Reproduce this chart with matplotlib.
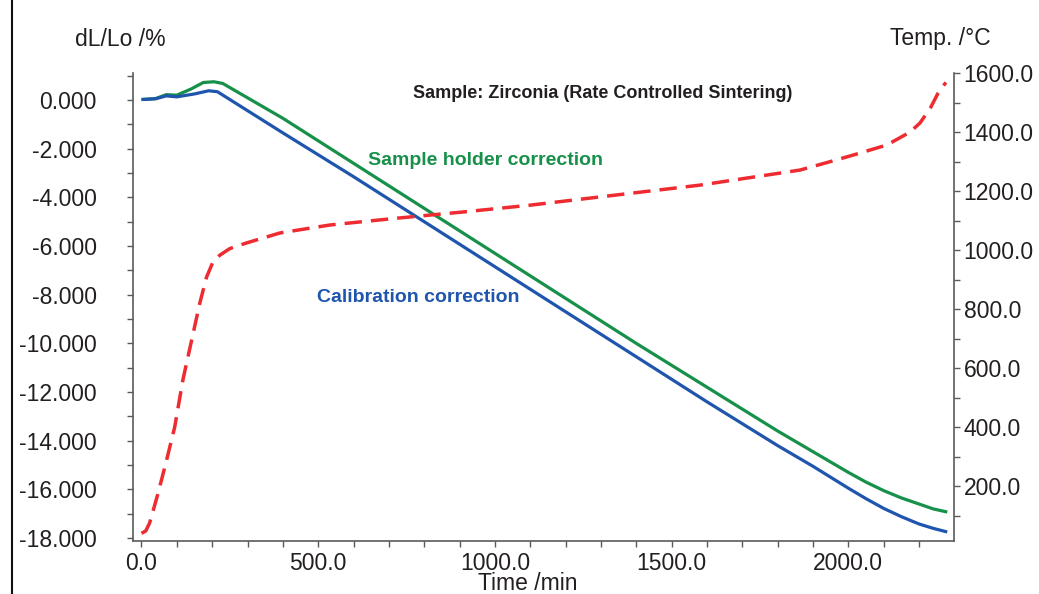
"""Dilatometer curve: zirconia rate controlled sintering (dL/Lo and temperature vs time)."""
import matplotlib
matplotlib.use("Agg")
import matplotlib.pyplot as plt
from matplotlib.lines import Line2D
from matplotlib.ticker import MultipleLocator, FormatStrFormatter

plt.rcParams["font.family"] = ["Liberation Sans", "DejaVu Sans"]

# --- data ---
time_calib = [0, 40, 70, 100, 150, 190, 215, 400, 600, 800, 1000, 1200, 1400,
              1600, 1800, 1900, 2000, 2050, 2100, 2150, 2200, 2240, 2280]
dl_calib = [0.02, 0.05, 0.17, 0.13, 0.25, 0.38, 0.34, -1.35, -3.15, -5.0, -6.85,
            -8.7, -10.55, -12.4, -14.2, -15.05, -15.95, -16.38, -16.78, -17.12,
            -17.42, -17.6, -17.75]

time_holder = [0, 40, 70, 100, 140, 175, 205, 230, 400, 600, 800, 1000, 1200,
               1400, 1600, 1800, 1900, 2000, 2050, 2100, 2150, 2200, 2240, 2280]
dl_holder = [0.02, 0.06, 0.22, 0.2, 0.45, 0.72, 0.75, 0.68, -0.75, -2.6, -4.45,
             -6.3, -8.15, -10.0, -11.8, -13.6, -14.45, -15.3, -15.7, -16.05,
             -16.35, -16.6, -16.8, -16.93]

time_temp = [0, 12, 23, 47, 71, 94, 117, 142, 165, 184, 202, 222, 250, 297, 392,
             534, 723, 910, 1099, 1297, 1580, 1863, 1950, 2014, 2109, 2175, 2203,
             2232, 2254, 2276]
temp = [40, 48, 75, 176, 288, 400, 559, 695, 820, 908, 959, 983, 1005, 1024,
        1058, 1085, 1108, 1129, 1152, 1180, 1220, 1271, 1300, 1322, 1356, 1400,
        1431, 1481, 1532, 1568]

title = "Sample: Zirconia (Rate Controlled Sintering)"
label_holder = "Sample holder correction"
label_calib = "Calibration correction"

GREEN = "#17904a"
BLUE = "#1f55ad"
RED = "#ee2b30"
TXT = "#231f20"
SPINE = "#5a5a5a"

fig = plt.figure(figsize=(10.39, 5.94), dpi=100)
ax = fig.add_axes([133 / 1039, 1 - 541 / 594, 821 / 1039, 468 / 594])
ax2 = ax.twinx()

ax.plot(time_holder, dl_holder, color=GREEN, lw=2.3, solid_capstyle="butt")
ax.plot(time_calib, dl_calib, color=BLUE, lw=2.3, solid_capstyle="butt")
ax2.plot(time_temp, temp, color=RED, lw=2.5, dashes=(5, 2.6))

ax.set_xlim(-24, 2299)
ax.set_ylim(-18.12, 1.11)
ax2.set_ylim(14, 1600)

ax.xaxis.set_major_locator(MultipleLocator(500))
ax.xaxis.set_minor_locator(MultipleLocator(100))
ax.xaxis.set_major_formatter(FormatStrFormatter("%.1f"))
ax.yaxis.set_major_locator(MultipleLocator(2))
ax.yaxis.set_minor_locator(MultipleLocator(1))
ax.yaxis.set_major_formatter(FormatStrFormatter("%.3f"))
ax2.yaxis.set_major_locator(MultipleLocator(200))
ax2.yaxis.set_minor_locator(MultipleLocator(100))
ax2.yaxis.set_major_formatter(FormatStrFormatter("%.1f"))

for a in (ax, ax2):
    for s in a.spines.values():
        s.set_color(SPINE)
        s.set_linewidth(1.2)
    a.spines["top"].set_visible(False)
    a.tick_params(which="both", direction="out", length=4, width=1,
                  color=SPINE, labelsize=16.5, labelcolor=TXT)
ax.spines["right"].set_visible(False)
ax2.spines["left"].set_visible(False)
ax2.spines["bottom"].set_visible(False)
ax.tick_params(axis="y", which="both", pad=22)
ax.tick_params(axis="x", which="both", pad=4)
ax2.tick_params(axis="y", which="both", pad=3)

ax.text(0.5725, 0.957, title, transform=ax.transAxes, ha="center", va="center",
        fontsize=13, fontweight="bold", color=TXT)
ax.text(0.286, 0.814, label_holder, transform=ax.transAxes, ha="left",
        va="center", fontsize=14, fontweight="bold", color=GREEN)
ax.text(0.224, 0.521, label_calib, transform=ax.transAxes, ha="left",
        va="center", fontsize=14, fontweight="bold", color=BLUE)

fig.text(120 / 1039, 1 - 40 / 594, "dL/Lo /%", ha="center", va="center",
         fontsize=16.5, color=TXT)
fig.text(940 / 1039, 1 - 38 / 594, "Temp. /°C", ha="center", va="center",
         fontsize=16.5, color=TXT)
fig.text(528 / 1039, 1 - 584 / 594, "Time /min", ha="center", va="center",
         fontsize=16.5, color=TXT)

# frame edge on the left of the picture
fig.add_artist(Line2D([12 / 1039, 12 / 1039], [0, 1], transform=fig.transFigure,
                      color="#111111", lw=1.5))

fig.savefig("out.png", dpi=100)
plt.close(fig)
